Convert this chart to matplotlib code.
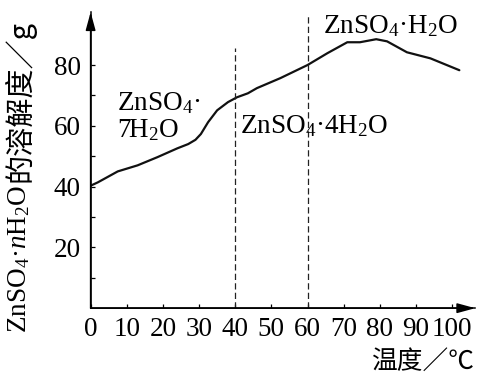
import matplotlib
matplotlib.use('Agg')
import matplotlib.pyplot as plt

plt.rcParams['font.family'] = ['Liberation Serif', 'Noto Sans CJK SC']
plt.rcParams['mathtext.fontset'] = 'custom'
plt.rcParams['mathtext.rm'] = 'Liberation Serif'
plt.rcParams['mathtext.it'] = 'Liberation Serif:italic'

# solubility curve
temp = [0, 2, 7.5, 13, 18.5, 24, 27, 29, 30.5, 32.5, 35, 38, 40.5, 43.5, 46,
        52.5, 60, 65.5, 71, 74.5, 79, 82, 87.5, 94, 102]
solub = [40.3, 41.4, 45, 47, 49.7, 52.6, 54, 55.4, 57.3, 61.2, 65.1, 67.8,
         69.4, 70.7, 72.4, 75.7, 80, 83.9, 87.5, 87.5, 88.5, 87.8, 84.2,
         82.2, 78.3]

# phase boundaries (x) and how high the dashed lines go
bound_x = [40, 60]
bound_top = [85.5, 96]

x_ticks = [0, 10, 20, 30, 40, 50, 60, 70, 80, 90, 100]
y_major = [20, 40, 60, 80]
y_minor = [10, 30, 50, 70]

fig = plt.figure(figsize=(4.82, 3.80), dpi=100)
ax = fig.add_axes([0.188, 0.189, 0.798, 0.779])

ax.plot(temp, solub, color='#111111', lw=1.6, solid_capstyle='round',
        solid_joinstyle='round')

for bx, top in zip(bound_x, bound_top):
    ax.plot([bx, bx], [0, top], color='#222222', lw=0.9,
            linestyle=(0, (5, 2.6)))

ax.set_xlim(0, 106.4)
ax.set_ylim(0, 97.4)
ax.set_xticks(x_ticks)
ax.set_yticks(y_major)
ax.set_yticks(y_minor, minor=True)
ax.tick_params(direction='in', length=3, width=0.9, labelsize=19.5, pad=6)
ax.tick_params(which='minor', direction='in', length=3, width=0.9)
ax.tick_params(axis='y', pad=7)

for side in ['top', 'right']:
    ax.spines[side].set_visible(False)
for side in ['left', 'bottom']:
    ax.spines[side].set_linewidth(1.1)

# axis arrows
arrow = dict(arrowstyle='-|>,head_length=1.1,head_width=0.3', color='k',
             lw=1.1, shrinkA=0, shrinkB=0, mutation_scale=10)
ax.annotate('', xy=(1, 0), xytext=(0, 0), xycoords='axes fraction',
            arrowprops=arrow, annotation_clip=False)
ax.annotate('', xy=(0, 1), xytext=(0, 0), xycoords='axes fraction',
            arrowprops=arrow, annotation_clip=False)

# phase labels
fs = 19.5
ax.text(7.3, 65.1, r'ZnSO$_4$·', fontsize=fs, va='baseline')
ax.text(7.3, 56.3, r'7H$_2$O', fontsize=fs, va='baseline')
ax.text(41.3, 57.6, r'ZnSO$_4$·4H$_2$O', fontsize=fs, va='baseline')
ax.text(64.3, 90.5, r'ZnSO$_4$·H$_2$O', fontsize=fs, va='baseline')

# axis titles
fig.text(0.040, 0.318, r'ZnSO$_4$·$n$H$_2$O', fontsize=fs, rotation=90,
         ha='center', va='center')
fig.text(0.040, 0.733, '的溶解度／g', fontsize=21, rotation=90,
         ha='center', va='center', family=['Noto Sans CJK SC'])
fig.text(0.985, 0.047, '温度／℃', fontsize=18.5, ha='right', va='center',
         family=['Noto Sans CJK SC'])

fig.savefig('out.png', dpi=100)
